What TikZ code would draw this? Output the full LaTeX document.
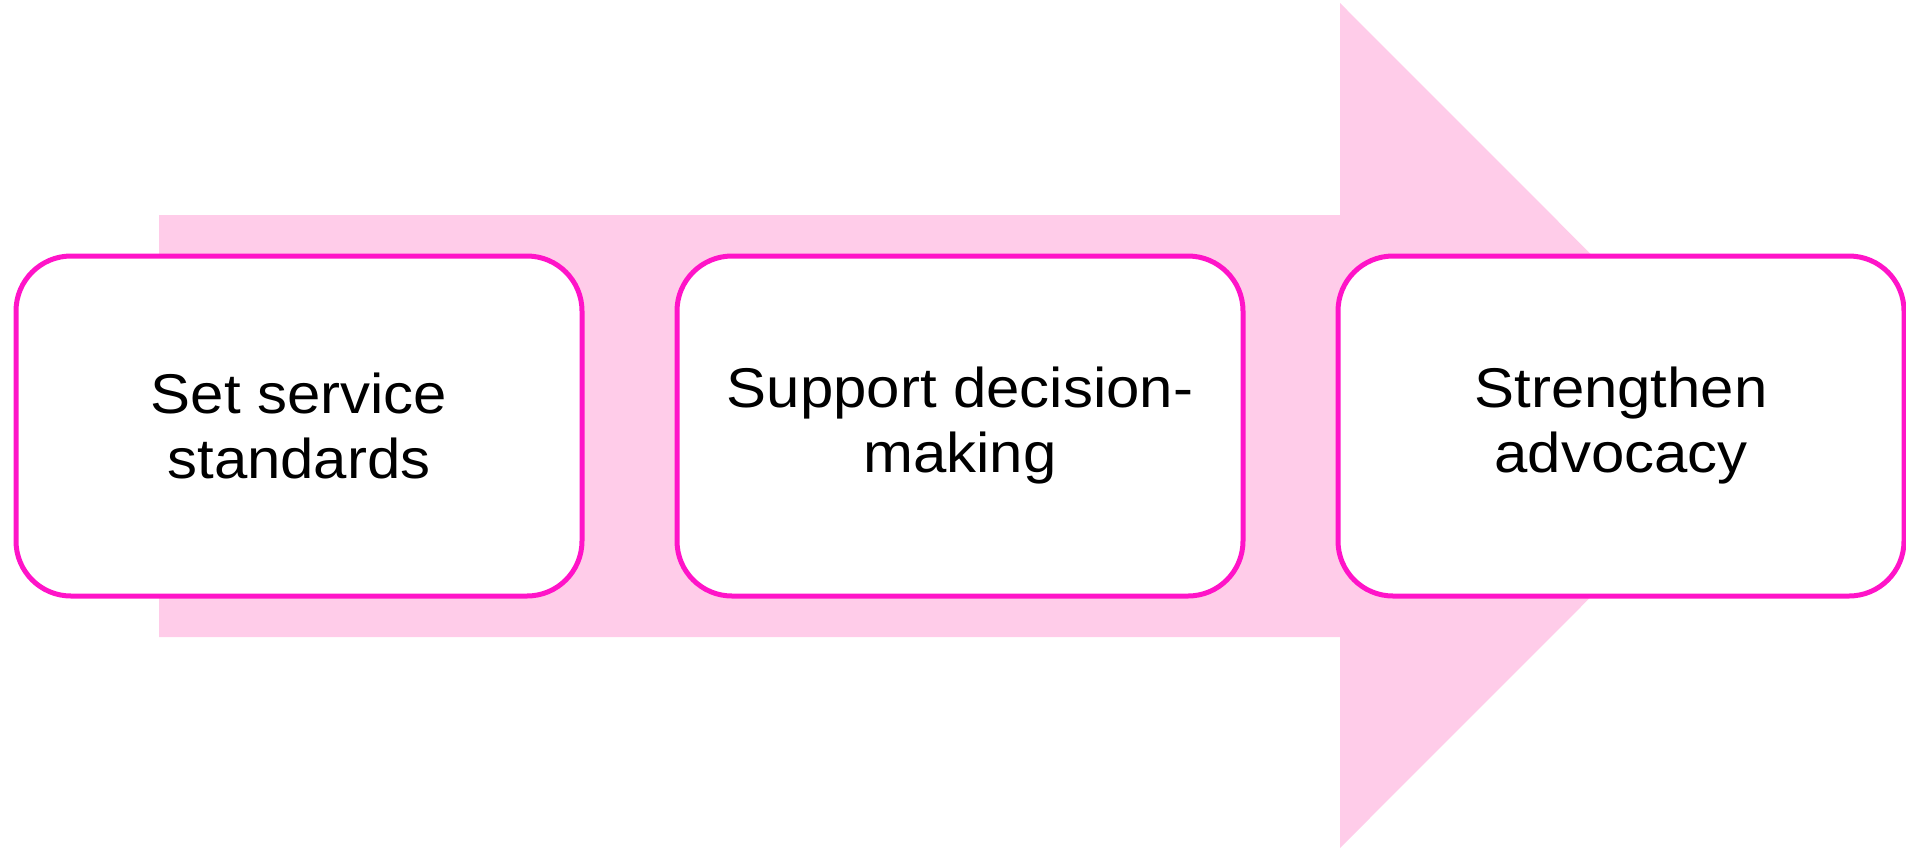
\documentclass[tikz,border=0pt]{standalone}
\usepackage{fontspec}
\setmainfont{Liberation Sans}[FakeStretch=1.07]
\usetikzlibrary{positioning}
\definecolor{flowpink}{RGB}{255,204,233}
\definecolor{flowmagenta}{RGB}{255,20,200}
\begin{document}
\begin{tikzpicture}[x=0.5pt,y=-0.5pt,
    stage/.style={draw=flowmagenta,line width=2.5pt,fill=white,rounded corners=27.5pt,
      minimum width=283pt,minimum height=170pt,outer sep=0pt,align=center,
      font=\fontsize{28}{32.5}\selectfont},
    node distance=47.5pt]
  \useasboundingbox (0,0) rectangle (1906,848);
  %big arrow
  \fill[flowpink] (159,215) -- (1340,215) -- (1340,3) -- (1762,425.5)
    -- (1340,848) -- (1340,637) -- (159,637) -- cycle;
  %stages
  \node[stage] (std) at (299,426) {Set service\\standards};
  \node[stage,right=of std] (dec) {Support decision-\\making};
  \node[stage,right=of dec] (adv) {Strengthen\\advocacy};
\end{tikzpicture}
\end{document}
